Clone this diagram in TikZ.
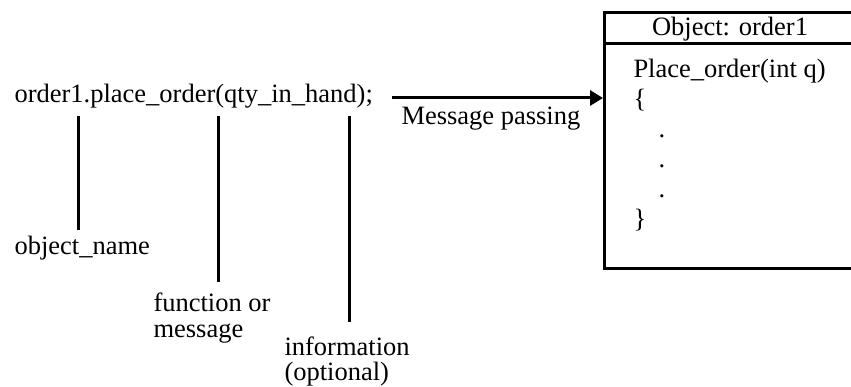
\documentclass[tikz,border=0pt]{standalone}
\usepackage{fontspec}
\setmainfont{Liberation Serif}
\usetikzlibrary{arrows.meta}

\begin{document}
\begin{tikzpicture}[x=1pt, y=-1pt, line width=3pt,
  font=\fontsize{26.5}{25}\selectfont,
  txt/.style={inner sep=0pt, anchor=base west},
  lbl/.style={inner sep=0pt, anchor=base west, align=left}]
\useasboundingbox (0,0) rectangle (851,387);
\clip (0,0) rectangle (851,387);

\draw (13,103) node[txt] (call) {order1.place\_order(qty\_in\_hand);} ;

\draw (13,255) node[lbl] (objname) {object\_name} ;
\draw (152,337) node[lbl] (func) {function or\\message} ;
\draw (283,380) node[lbl] (info) {information\\(optional)} ;

\coordinate (c1) at (78,116) ;
\coordinate (c2) at (218,116) ;
\coordinate (c3) at (349,116) ;
\coordinate (d1) at (78,230) ;
\coordinate (d2) at (218,282) ;
\coordinate (d3) at (349,322) ;
\draw (c1) to (d1)
      (c2) to (d2)
      (c3) to (d3) ;

% the object
\draw (603,11) node[draw, anchor=north west, inner sep=0pt,
      minimum width=270pt, minimum height=256pt] (obj) {} ;
\draw (obj.north west) ++(0,33) coordinate (hd) -- (hd -| obj.east) ;
\draw (730,36) node[inner sep=0pt, anchor=base] (objtitle) {Object: order1} ;
\draw (632,228) node[txt, font=\fontsize{26.5}{30}\selectfont, align=left] (body)
      {Place\_order(int q)\\\{\\\hspace*{25pt}.\\\hspace*{25pt}.\\\hspace*{25pt}.\\\}} ;

% message
\coordinate (ms) at (392,98) ;
\draw[-{Triangle[length=13pt,width=15pt]}] (ms) to (ms -| obj.west) ;
\draw (400,125) node[txt] (msg) {Message passing} ;
\end{tikzpicture}
\end{document}
